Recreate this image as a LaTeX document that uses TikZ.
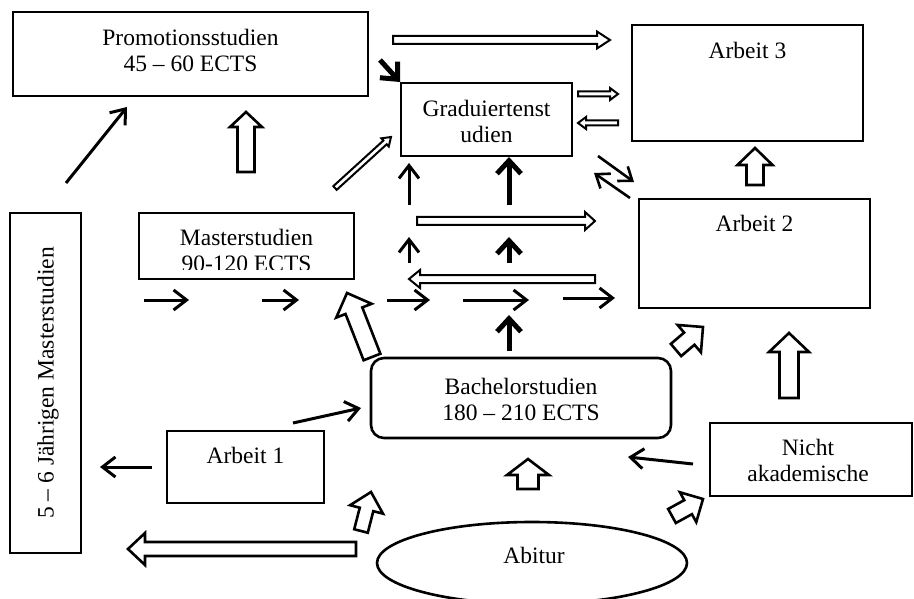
\documentclass[tikz,border=0pt]{standalone}
\usepackage{fontspec}
\setmainfont{Liberation Serif}
\usetikzlibrary{arrows.meta,shapes.geometric}

% hollow block arrow: style, start x, start y, tip x, tip y, shaft half width, head half width, head length
\newcommand\blockarrow[8]{%
  \pgfmathsetmacro\barang{atan2(-((#5)-(#3)),(#4)-(#2))}%
  \pgfmathsetmacro\barlen{veclen((#4)-(#2),(#5)-(#3))}%
  \draw[#1, shift={(#2,#3)}, rotate=\barang]
    (0,-#6) -- (\barlen-#8,-#6) -- (\barlen-#8,-#7) -- (\barlen,0)
    -- (\barlen-#8,#7) -- (\barlen-#8,#6) -- (0,#6) -- cycle;}

\begin{document}
\begin{tikzpicture}[x=1pt,y=-1pt,
  box/.style={draw, line width=2.6pt, inner sep=0pt},
  lbl/.style={font=\fontsize{23.5}{26}\selectfont, align=center, inner sep=0pt},
  ln/.style={line width=3pt, -{Straight Barb[length=13pt,width=20pt]}},
  lnthin/.style={line width=2.6pt, -{Straight Barb[length=12pt,width=18pt]}},
  bd/.style={line width=5pt, -{Straight Barb[length=13pt,width=24pt]}},
  thinhol/.style={draw, line width=2pt, fill=white, line join=miter},
  fathol/.style={draw, line width=2.6pt, fill=white, line join=miter}]

\fill[white] (0,0) rectangle (914,599);
\useasboundingbox (0,0) rectangle (914,599);

% boxes
\node[box, minimum width=355pt, minimum height=84pt] (promo) at (190.5,54) {};
\node[box, minimum width=171pt, minimum height=73pt] (grad) at (486.5,119.5) {};
\node[box, minimum width=231pt, minimum height=116pt] (arb3) at (747.5,83) {};
\node[box, minimum width=231pt, minimum height=109pt] (arb2) at (754.5,253.5) {};
\node[box, minimum width=215pt, minimum height=66pt] (master) at (246.5,246) {};
\node[box, minimum width=71pt, minimum height=340pt] (long) at (45.5,383) {};
\node[box, minimum width=157pt, minimum height=72pt] (arb1) at (245.5,467) {};
\node[box, rounded corners=13pt, minimum width=300pt, minimum height=80pt] (bach) at (521,398) {};
\node[box, minimum width=202pt, minimum height=73pt] (nicht) at (811,459.5) {};
\node[box, ellipse, minimum width=310pt, minimum height=82pt] (abi) at (532,563) {};

% labels
\node[lbl] (promoT) at (190.5,50) {Promotionsstudien\\45 – 60 ECTS};
\node[lbl] (gradT) at (486.5,121) {Graduiertenst\\udien};
\node[lbl] (arb3T) at (747.5,50) {Arbeit 3};
\node[lbl] (arb2T) at (754.5,223) {Arbeit 2};
\begin{scope}
  \clip (139,213) rectangle (354,269);
  \node[lbl] (masterT) at (246.5,250.5) {Masterstudien\\90-120 ECTS};
\end{scope}
\node[lbl, rotate=90] (longT) at (48,383) {5 – 6 Jährigen Masterstudien};
\node[lbl] (arb1T) at (245.5,455) {Arbeit 1};
\node[lbl] (bachT) at (521,399.5) {Bachelorstudien\\180 – 210 ECTS};
\node[lbl] (nichtT) at (808,460.5) {Nicht\\akademische};
\node[lbl] (abiT) at (534,555) {Abitur};

% plain line arrows
\draw[ln] (66,183) -- (127,107);
\draw[lnthin] (598,156) -- (634,182);
\draw[lnthin] (630,198) -- (594,173);
\draw[ln] (409,205) -- (409,163);
\draw[ln] (409,263) -- (409,237);
\draw[ln] (144,300) -- (189,300);
\draw[ln] (262,300) -- (299,300);
\draw[ln] (387,300) -- (430,300);
\draw[ln] (463,300) -- (529,300);
\draw[ln] (563,298) -- (615,298);
\draw[ln] (293,423) -- (361,408);
\draw[ln] (152,467) -- (100,467);
\draw[ln] (693,464) -- (628,457);

% bold arrows
\draw[bd] (380,60) -- (400,82);
\draw[bd] (509,205) -- (509,157);
\draw[bd] (509,263) -- (509,237);
\draw[bd] (509,351) -- (509,315);

% thin hollow arrows
\blockarrow{thinhol}{393}{40}{610}{40}{4}{8.5}{13}
\blockarrow{thinhol}{417}{221}{595}{221}{4}{9}{10}
\blockarrow{thinhol}{595}{279}{409}{279}{4}{9}{11}
\blockarrow{thinhol}{578}{94}{618}{94}{2.5}{6}{8}
\blockarrow{thinhol}{618}{123}{578}{123}{2.5}{6}{8}
\blockarrow{thinhol}{335}{188}{391}{137}{2.5}{5.5}{8}

% fat hollow arrows
\blockarrow{fathol}{246}{172}{246}{112}{8.5}{16}{15}
\blockarrow{fathol}{755}{185}{755}{148}{8.5}{17.5}{17}
\blockarrow{fathol}{789}{398}{789}{333}{9.5}{20}{19}
\blockarrow{fathol}{528}{489}{528}{459}{10.5}{21}{16}
\blockarrow{fathol}{356}{549}{128}{549}{7}{16}{17}
\blockarrow{fathol}{372}{357}{347}{293}{9}{19}{19}
\blockarrow{fathol}{676}{350}{703}{327}{8}{18}{18}
\blockarrow{fathol}{361}{531}{371}{492}{7}{17}{18}
\blockarrow{fathol}{672}{516}{703}{499}{8}{17}{17}
\end{tikzpicture}
\end{document}
